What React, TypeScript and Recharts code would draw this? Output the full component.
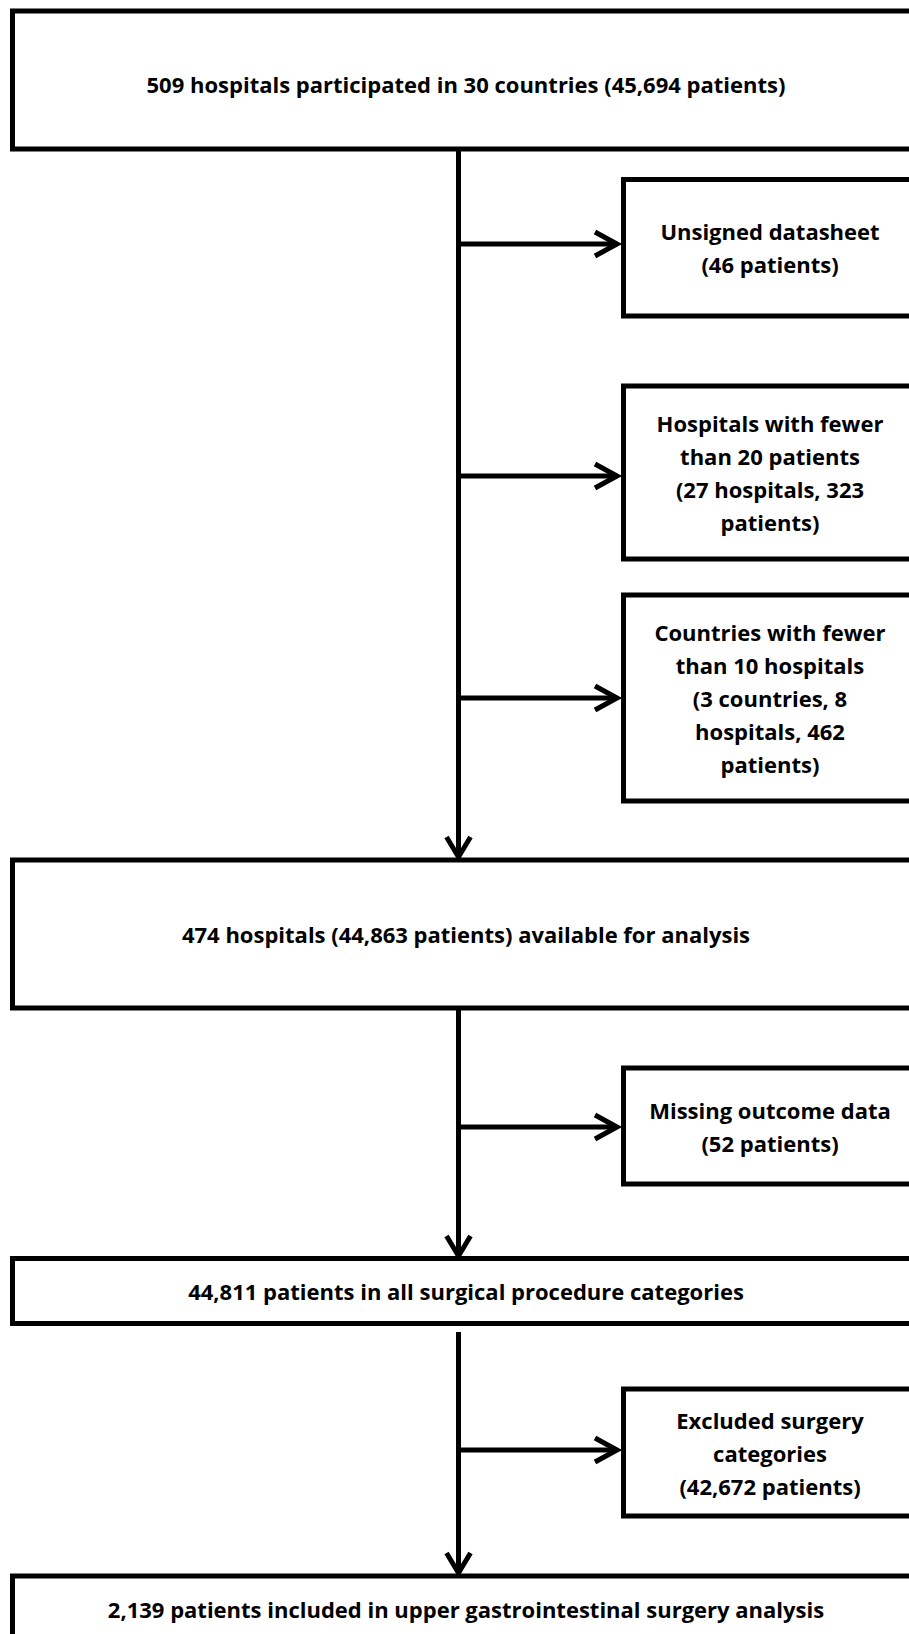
import { ComposedChart, XAxis, YAxis, Scatter, ReferenceArea, ReferenceLine } from 'recharts';

const W = 909;
const H = 1634;
const FONT = '"Open Sans", Lato, sans-serif';

// main column boxes (top to bottom)
const mainBoxes = [
  { y1: 11, y2: 149, lines: ['509 hospitals participated in 30 countries (45,694 patients)'], textY: 84 },
  { y1: 860, y2: 1008, lines: ['474 hospitals (44,863 patients) available for analysis'] },
  { y1: 1258.5, y2: 1323.5, lines: ['44,811 patients in all surgical procedure categories'] },
  { y1: 1576, y2: 1720, lines: ['2,139 patients included in upper gastrointestinal surgery analysis'], textY: 1609 },
];

// exclusion boxes on the right
const sideBoxes = [
  { y1: 179.5, y2: 316, arrowY: 244, lines: ['Unsigned datasheet', '(46 patients)'] },
  { y1: 386, y2: 559, arrowY: 476, lines: ['Hospitals with fewer', 'than 20 patients', '(27 hospitals, 323', 'patients)'] },
  { y1: 595, y2: 801, arrowY: 698, lines: ['Countries with fewer', 'than 10 hospitals', '(3 countries, 8', 'hospitals, 462', 'patients)'] },
  { y1: 1068, y2: 1184, arrowY: 1127, lines: ['Missing outcome data', '(52 patients)'] },
  { y1: 1389, y2: 1516, arrowY: 1450, lines: ['Excluded surgery', 'categories', '(42,672 patients)'] },
];

// vertical connectors [from, to]
const trunks = [
  [149, 857],
  [1008, 1256],
  [1332, 1573],
];

const trunkX = 458.5;
const mainX1 = 12.5;
const mainX2 = 940;
const sideX1 = 623.5;
const sideX2 = 940;
const mainTextX = 466;
const sideTextX = 770;
const lineGap = 33;

const textPoints: { x: number; y: number; text: string }[] = [];
mainBoxes.forEach((b) => {
  const cy = b.textY ?? (b.y1 + b.y2) / 2;
  b.lines.forEach((t, i) => textPoints.push({ x: mainTextX, y: cy + (i - (b.lines.length - 1) / 2) * lineGap, text: t }));
});
sideBoxes.forEach((b) => {
  const cy = (b.y1 + b.y2) / 2;
  b.lines.forEach((t, i) => textPoints.push({ x: sideTextX, y: cy + (i - (b.lines.length - 1) / 2) * lineGap, text: t }));
});

const arrowHeads = [
  ...trunks.map((t) => ({ x: trunkX, y: t[1], dir: 'down' })),
  ...sideBoxes.map((b) => ({ x: sideX1 - 6.5, y: b.arrowY, dir: 'right' })),
];

const ArrowHead = (props: any) => {
  const { cx, cy, payload } = props;
  const pts = payload.dir === 'down'
    ? `${cx - 12},${cy - 20} ${cx},${cy} ${cx + 12},${cy - 20}`
    : `${cx - 22},${cy - 12} ${cx},${cy} ${cx - 22},${cy + 12}`;
  return <polyline points={pts} fill="none" stroke="#000" strokeWidth={5} strokeLinejoin="miter" />;
};

const Label = (props: any) => {
  const { cx, cy, payload } = props;
  return (
    <text x={cx} y={cy} textAnchor="middle" dominantBaseline="central" fontFamily={FONT} fontWeight={700} fontSize={22} fill="#000">
      {payload.text}
    </text>
  );
};

export default function App() {
  return (
    <div style={{ position: 'absolute', left: 0, top: 0, background: '#fff' }}>
      <ComposedChart width={W} height={H} margin={{ top: 0, right: 0, bottom: 0, left: 0 }}>
        <XAxis type="number" dataKey="x" domain={[0, W]} hide allowDataOverflow />
        <YAxis type="number" dataKey="y" domain={[0, H]} reversed hide allowDataOverflow />
        {mainBoxes.map((b, i) => (
          <ReferenceArea key={`m${i}`} x1={mainX1} x2={mainX2} y1={b.y1} y2={b.y2} fill="none" fillOpacity={0} stroke="#000" strokeWidth={5} strokeOpacity={1} ifOverflow="hidden" />
        ))}
        {sideBoxes.map((b, i) => (
          <ReferenceArea key={`s${i}`} x1={sideX1} x2={sideX2} y1={b.y1} y2={b.y2} fill="none" fillOpacity={0} stroke="#000" strokeWidth={5} strokeOpacity={1} ifOverflow="hidden" />
        ))}
        {trunks.map((t, i) => (
          <ReferenceLine key={`t${i}`} segment={[{ x: trunkX, y: t[0] }, { x: trunkX, y: t[1] }]} stroke="#000" strokeWidth={5} ifOverflow="visible" />
        ))}
        {sideBoxes.map((b, i) => (
          <ReferenceLine key={`a${i}`} segment={[{ x: trunkX - 2.5, y: b.arrowY }, { x: sideX1 - 7, y: b.arrowY }]} stroke="#000" strokeWidth={5} ifOverflow="visible" />
        ))}
        <Scatter data={arrowHeads} shape={ArrowHead} isAnimationActive={false} />
        <Scatter data={textPoints} shape={Label} isAnimationActive={false} />
      </ComposedChart>
    </div>
  );
}
